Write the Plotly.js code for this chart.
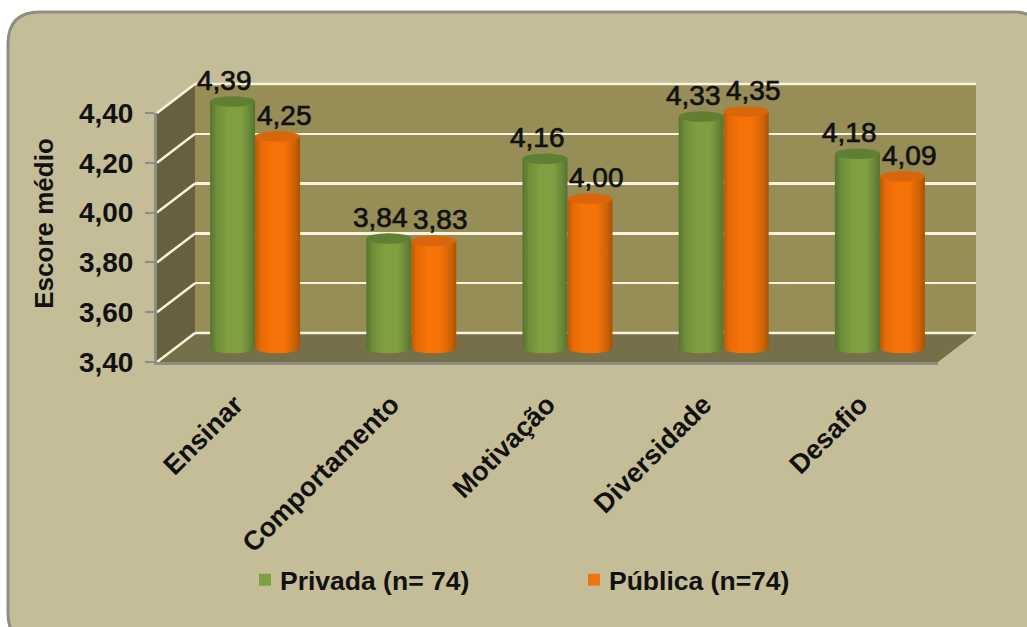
<!DOCTYPE html>
<html>
<head>
<meta charset="utf-8">
<script src="https://cdn.plot.ly/plotly-3.0.1.min.js"></script>
<style>html,body{margin:0;padding:0;background:#fff}</style>
</head>
<body>
<div id="chart" style="width:1027px;height:627px"></div>
<script>
// Survey scores by teaching dimension, private vs public schools
const categories = ['Ensinar', 'Comportamento', 'Motivação', 'Diversidade', 'Desafio'];
const privada = [4.39, 3.84, 4.16, 4.33, 4.18];
const publica = [4.25, 3.83, 4.00, 4.35, 4.09];
const seriesNames = ['Privada (n= 74)', 'Pública (n=74)'];
const scoreTicks = [3.4, 3.6, 3.8, 4.0, 4.2, 4.4];

const W = 1027, H = 627;
const FONT = '"Liberation Sans", Arial, sans-serif';
const INK = '#111111';
const GRID = '#f8f3dc';
const BASE = 3.4, TOP = 4.4;

// Oblique chart box in pixels: front plane, and the depth offset of the back wall
const FRONT = {x0: 157, x1: 938, yBase: 362, yTop: 113};
const DEPTH = {dx: 38, dy: -29};
const BARPLANE = {dx: 20, dy: -14};
const pad = 0.1;                 // extra axis room so the cylinder caps are not clipped

const px = x => x / W;
const py = y => 1 - y / H;
const scoreToPx = v => FRONT.yBase - (v - BASE) * (FRONT.yBase - FRONT.yTop) / (TOP - BASE);
const poly = pts => 'M' + pts.map(p => px(p[0]) + ',' + py(p[1])).join('L') + 'Z';

const barWidth = 0.288;
const capHeight = 0.021;

function xDomain(dx) { return [px(FRONT.x0 + dx), px(FRONT.x1 + dx)]; }
function yDomain(dy, extra) {
  const unit = (FRONT.yBase - FRONT.yTop) / (TOP - BASE);
  return [py(FRONT.yBase + dy + extra * unit), py(FRONT.yTop + dy - extra * unit)];
}

// Cylinder bodies
const idx = categories.map((_, i) => i);
const bar = (name, vals, color) => ({
  type: 'bar', name, x: idx, y: vals.map(v => v - BASE), base: BASE,
  xaxis: 'x2', yaxis: 'y2', hoverinfo: 'skip',
  marker: {color, line: {width: 0}}
});
const traces = [
  // back wall subplot carries the grid, front subplot carries the ticks and labels
  {type: 'scatter', x: categories, y: privada, xaxis: 'x', yaxis: 'y', mode: 'markers',
   marker: {opacity: 0}, showlegend: false, hoverinfo: 'skip'},
  bar(seriesNames[0], privada, '#7f9f40'),
  bar(seriesNames[1], publica, '#f07410'),
  {type: 'scatter', x: categories, y: privada, xaxis: 'x3', yaxis: 'y3', mode: 'markers',
   marker: {opacity: 0}, showlegend: false, hoverinfo: 'skip'}
];

// Panel, box faces
const shapes = [];
const R = 32, L = 8, T = 12, RI = 1045, B = 645;
shapes.push({type: 'path', xref: 'paper', yref: 'paper', layer: 'below',
  path: `M${px(L)},${py(T + R)}Q${px(L)},${py(T)} ${px(L + R)},${py(T)}L${px(RI - R)},${py(T)}Q${px(RI)},${py(T)} ${px(RI)},${py(T + R)}L${px(RI)},${py(B - R)}Q${px(RI)},${py(B)} ${px(RI - R)},${py(B)}L${px(L + R)},${py(B)}Q${px(L)},${py(B)} ${px(L)},${py(B - R)}Z`,
  fillcolor: '#c5bd97', line: {color: '#8f8e84', width: 3}});

const bx0 = FRONT.x0 + DEPTH.dx, bx1 = FRONT.x1 + DEPTH.dx;
const byB = FRONT.yBase + DEPTH.dy, byT = FRONT.yTop + DEPTH.dy;
const face = (pts, fill) => shapes.push({type: 'path', xref: 'paper', yref: 'paper', layer: 'below',
  path: poly(pts), fillcolor: fill, line: {width: 0}});
face([[bx0, byT], [bx1, byT], [bx1, byB], [bx0, byB]], '#978d56');
face([[FRONT.x0, FRONT.yBase], [bx0, byB], [bx0, byT], [FRONT.x0, FRONT.yTop]], '#67603f');
face([[FRONT.x0, FRONT.yBase], [bx0, byB], [bx1, byB], [FRONT.x1, FRONT.yBase]], '#757049');

// Grid continues diagonally across the side wall; the axis grid drops the two end lines
scoreTicks.forEach(v => {
  const y = scoreToPx(v);
  shapes.push({type: 'line', xref: 'paper', yref: 'paper', layer: 'below',
    x0: px(FRONT.x0), y0: py(y), x1: px(bx0), y1: py(y + DEPTH.dy),
    line: {color: GRID, width: 2.5}});
  if (v === BASE || v === TOP) {
    shapes.push({type: 'line', xref: 'paper', yref: 'paper', layer: 'below',
      x0: px(bx0), y0: py(y + DEPTH.dy), x1: px(bx1), y1: py(y + DEPTH.dy),
      line: {color: GRID, width: 2.5}});
  }
});

// Cylinder ends: base ellipse under the body, cap ellipse on top of it
const cap = (cx, v, fill, layer) => shapes.push({
  type: 'circle', xref: 'x2', yref: 'y2', layer,
  x0: cx - barWidth / 2, x1: cx + barWidth / 2, y0: v - capHeight, y1: v + capHeight,
  fillcolor: fill, line: {width: 0}});
[[privada, -barWidth / 2, '#7f9f40', '#5f7f33'], [publica, barWidth / 2, '#f07410', '#d9660a']]
  .forEach(([vals, off, body, top]) => vals.forEach((v, i) => {
    cap(i + off, BASE, body, 'below');
    cap(i + off, v, top, 'above');
  }));

// Value labels sit above each cap
const fmt = v => v.toFixed(2).replace('.', ',');
const annotations = [];
[[privada, -barWidth / 2, -8], [publica, barWidth / 2, 7]].forEach(([vals, off, sh]) =>
  vals.forEach((v, i) => annotations.push({
    xref: 'x2', yref: 'y2', x: i + off, y: v, text: fmt(v), showarrow: false,
    xshift: sh, yshift: 21, font: {family: FONT, size: 28, color: INK}
  })));

const hiddenAxis = (extra) => Object.assign({visible: false, fixedrange: true}, extra);
const boldFont = size => ({family: FONT, size, color: INK, weight: 'bold'});

const layout = {
  width: W, height: H, autosize: false,
  margin: {l: 0, r: 0, t: 0, b: 0, pad: 0},
  paper_bgcolor: '#ffffff',
  plot_bgcolor: 'rgba(0,0,0,0)',
  separators: ',.',
  barmode: 'group', bargap: 1 - 2 * barWidth, bargroupgap: 0,
  hovermode: false,
  shapes, annotations,
  legend: {
    orientation: 'h', x: px(245), y: py(580), xanchor: 'left', yanchor: 'middle',
    bgcolor: 'rgba(0,0,0,0)', entrywidth: 284, entrywidthmode: 'pixels',
    font: boldFont(26.5)
  },
  // back wall with grid
  xaxis: {domain: xDomain(DEPTH.dx), anchor: 'y', type: 'category', range: [-0.5, 4.5],
    visible: false, fixedrange: true},
  yaxis: {domain: yDomain(DEPTH.dy, 0), anchor: 'x', range: [BASE, TOP], tickvals: scoreTicks,
    showgrid: true, gridcolor: GRID, gridwidth: 2.5, zeroline: false, showline: false,
    ticks: '', showticklabels: false, fixedrange: true},
  // plane holding the cylinders
  xaxis2: hiddenAxis({domain: xDomain(BARPLANE.dx), anchor: 'y2', type: 'linear', range: [-0.5, 4.5]}),
  yaxis2: hiddenAxis({domain: yDomain(BARPLANE.dy, pad), anchor: 'x2', type: 'linear', range: [BASE - pad, TOP + pad]}),
  // front plane with ticks and labels
  xaxis3: {domain: xDomain(0), anchor: 'y3', type: 'category', range: [-0.5, 4.5],
    categoryorder: 'array', categoryarray: categories,
    showline: true, linecolor: '#8f8e84', linewidth: 3, showgrid: false, zeroline: false,
    ticks: '', tickangle: -45, fixedrange: true, ticklabelstandoff: 13,
    tickfont: boldFont(27),
    minor: {ticks: 'outside', ticklen: 9, tickwidth: 2, tickcolor: '#8f8e84', tick0: -0.5, dtick: 1, showgrid: false}},
  yaxis3: {domain: yDomain(0, 0), anchor: 'x3', range: [BASE, TOP], tickvals: scoreTicks, tickformat: '.2f',
    showline: true, linecolor: '#8f8e84', linewidth: 3, showgrid: false, zeroline: false,
    ticks: 'outside', ticklen: 9, tickwidth: 2, tickcolor: '#8f8e84', fixedrange: true,
    ticklabelstandoff: 6,
    tickfont: boldFont(28),
    title: {text: 'Escore médio', font: boldFont(26), standoff: 18}}
};

// Horizontal shading that gives the bars their round look
const SHADES = {
  g: [[0, '#55732f'], [0.15, '#6f9039'], [0.4, '#7f9f40'], [0.7, '#7f9f41'], [0.9, '#668437'], [1, '#55722f']],
  o: [[0, '#b85a06'], [0.12, '#e56a06'], [0.35, '#f57307'], [0.65, '#f47207'], [0.88, '#cc6206'], [1, '#a85206']]
};
function addShading(gd) {
  const svg = gd.querySelector('svg.main-svg');
  const ns = 'http://www.w3.org/2000/svg';
  const defs = svg.querySelector('defs');
  Object.keys(SHADES).forEach(k => {
    const g = document.createElementNS(ns, 'linearGradient');
    g.setAttribute('id', 'shade-' + k);
    g.setAttribute('x1', '0'); g.setAttribute('x2', '1'); g.setAttribute('y1', '0'); g.setAttribute('y2', '0');
    SHADES[k].forEach(([o, c]) => {
      const s = document.createElementNS(ns, 'stop');
      s.setAttribute('offset', o); s.setAttribute('stop-color', c);
      g.appendChild(s);
    });
    defs.appendChild(g);
  });
  gd.querySelectorAll('.barlayer .trace').forEach((t, i) => {
    const k = i === 0 ? 'g' : 'o';
    t.querySelectorAll('.point path').forEach(p => { p.style.fill = `url(#shade-${k})`; });
  });
  // Base ellipses share the body's shading
  gd.querySelectorAll('.shapelayer path').forEach(p => {
    const f = p.style.fill.replace(/\s/g, '');
    if (f === 'rgb(127,159,64)') p.style.fill = 'url(#shade-g)';
    if (f === 'rgb(240,116,16)') p.style.fill = 'url(#shade-o)';
  });
  // Value labels carry a slightly heavier stroke; legend text sits closer to its swatch
  gd.querySelectorAll('.annotation-text').forEach(t => {
    t.style.stroke = INK; t.style.strokeWidth = '0.7px';
  });
  gd.querySelectorAll('.legendtext').forEach(t => {
    t.setAttribute('x', parseFloat(t.getAttribute('x')) - 5);
  });
  // The score title sits a little above the axis centre
  const title = gd.querySelector('.y3title');
  if (title) title.setAttribute('transform', 'translate(0,-14) ' + (title.getAttribute('transform') || ''));
}

Plotly.newPlot('chart', traces, layout, {staticPlot: true, displayModeBar: false})
  .then(addShading);
</script>
</body>
</html>
